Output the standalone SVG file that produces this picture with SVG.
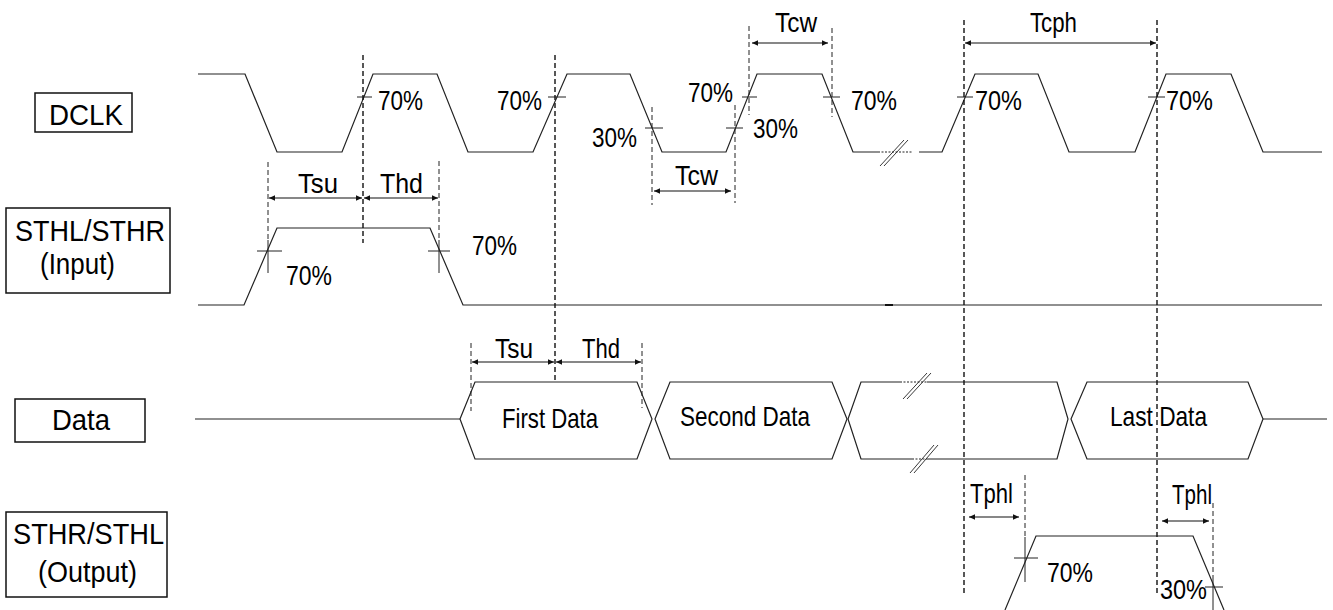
<svg xmlns="http://www.w3.org/2000/svg" width="1333" height="610" viewBox="0 0 1333 610">
<style>
.bg{fill:#fff}
.w{fill:none;stroke:#222;stroke-width:1.2}
.dot{fill:none;stroke:#222;stroke-width:1.2;stroke-dasharray:2 1.5}
.brk{fill:none;stroke:#222;stroke-width:0.9}
.tk{fill:none;stroke:#222;stroke-width:1}
.dl{fill:none;stroke:#111;stroke-width:1.4;stroke-dasharray:5 3}
.ds{fill:none;stroke:#222;stroke-width:1;stroke-dasharray:5 3}
.ar{fill:none;stroke:#111;stroke-width:1.1;marker-start:url(#ah);marker-end:url(#ah)}
.box{fill:#fff;stroke:#111;stroke-width:1.5}
text{font-family:"Liberation Sans",Arial,sans-serif;fill:#000}
.lb{font-size:30px}
.t{font-size:28px}
</style>
<defs>
<marker id="ah" markerUnits="userSpaceOnUse" markerWidth="7" markerHeight="7" refX="6" refY="3.5" orient="auto-start-reverse">
<path d="M0,0.8 L6,3.5 L0,6.2 Z" fill="#111"/>
</marker>
</defs>
<rect class="bg" x="0" y="0" width="1333" height="610"/>

<g id="label-dclk">
<rect class="box" x="35" y="93" width="97" height="39"/>
<text class="lb" x="49" y="125" textLength="74" lengthAdjust="spacingAndGlyphs">DCLK</text>
</g>
<g id="label-sthl-input">
<rect class="box" x="6" y="208" width="164" height="85"/>
<text class="lb" x="15" y="241" textLength="150" lengthAdjust="spacingAndGlyphs">STHL/STHR</text>
<text class="lb" x="40" y="274" textLength="75" lengthAdjust="spacingAndGlyphs">(Input)</text>
</g>
<g id="label-data">
<rect class="box" x="15" y="399" width="130" height="43"/>
<text class="lb" x="52" y="430" textLength="58" lengthAdjust="spacingAndGlyphs">Data</text>
</g>
<g id="label-sthr-output">
<rect class="box" x="6" y="512" width="161" height="85"/>
<text class="lb" x="13" y="544" textLength="151" lengthAdjust="spacingAndGlyphs">STHR/STHL</text>
<text class="lb" x="38" y="582" textLength="99" lengthAdjust="spacingAndGlyphs">(Output)</text>
</g>

<g id="wave-dclk">
<path class="w" d="M198,74 H245 L277,152 H342 L373,74 H437 L468,152 H533 L567,74 H630 L662,152 H726 L757,74 H822 L853,152 H878"/>
<path class="dot" d="M878,152 H913"/>
<path class="w" d="M919,152 H942 L975,74 H1038 L1069,152 H1135 L1166,74 H1231 L1263,152 H1322"/>
<path class="brk" d="M880,166 L904,140 M884,166 L908,140"/>
<path class="tk" d="M357,97 H372 M548,97 H566 M645,128 H663 M726,128 H743 M742,97 H757 M823,97 H840 M957,97 H973 M1148,97 H1165"/>
<text class="t" x="378" y="110" textLength="45" lengthAdjust="spacingAndGlyphs">70%</text>
<text class="t" x="497" y="110" textLength="45" lengthAdjust="spacingAndGlyphs">70%</text>
<text class="t" x="592" y="147" textLength="45" lengthAdjust="spacingAndGlyphs">30%</text>
<text class="t" x="688" y="102" textLength="45" lengthAdjust="spacingAndGlyphs">70%</text>
<text class="t" x="753" y="138" textLength="45" lengthAdjust="spacingAndGlyphs">30%</text>
<text class="t" x="851" y="110" textLength="46" lengthAdjust="spacingAndGlyphs">70%</text>
<text class="t" x="975" y="110" textLength="47" lengthAdjust="spacingAndGlyphs">70%</text>
<text class="t" x="1166" y="110" textLength="47" lengthAdjust="spacingAndGlyphs">70%</text>
</g>

<g id="wave-sthl-input">
<path class="w" d="M198,305 H244 L277,228 H430 L463,305 H1322"/>
<path d="M885,305 H893" stroke="#111" stroke-width="2"/>
<path class="tk" d="M257,251 H282 M268,240 V273 M428,251 H450 M439,240 V273"/>
<text class="t" x="286" y="285" textLength="46" lengthAdjust="spacingAndGlyphs">70%</text>
<text class="t" x="472" y="255" textLength="45" lengthAdjust="spacingAndGlyphs">70%</text>
</g>

<g id="wave-data">
<path class="w" d="M195,419 H460"/>
<path class="w" d="M460,419 L475,382 H637 L652,419 L637,459 H475 Z"/>
<path class="w" d="M655,419 L670,382 H832 L847,419 L832,459 H670 Z"/>
<path class="w" d="M900,382 H861 L848,419 L861,459 H912"/>
<path class="w" d="M927,382 H1057 L1068,419 L1057,459 H928"/>
<path class="dot" d="M900,382 H927 M912,459 H928"/>
<path class="brk" d="M903,399 L927,373 M907,399 L931,373 M910,473 L934,445 M914,473 L938,445"/>
<path class="w" d="M1071,419 L1087,382 H1248 L1263,419 L1248,459 H1087 Z"/>
<path class="w" d="M1263,419 H1327"/>
<text class="t" x="502" y="428" textLength="96" lengthAdjust="spacingAndGlyphs">First Data</text>
<text class="t" x="680" y="426" textLength="130" lengthAdjust="spacingAndGlyphs">Second Data</text>
<text class="t" x="1110" y="426" textLength="97" lengthAdjust="spacingAndGlyphs">Last Data</text>
</g>

<g id="wave-sthr-output">
<path class="w" d="M1005,610 L1036,536 H1193 L1224,610"/>
<path class="tk" d="M1014,558 H1038 M1025,537 V582 M1205,587 H1223 M1213,575 V610"/>
<text class="t" x="1047" y="582" textLength="46" lengthAdjust="spacingAndGlyphs">70%</text>
<text class="t" x="1160" y="599" textLength="47" lengthAdjust="spacingAndGlyphs">30%</text>
</g>

<g id="connectors">
<path class="dl" d="M363,55 V243 M555,55 V382 M964,20 V595 M1157,20 V595"/>
<path class="ds" d="M652,107 V205 M735,105 V203 M749,26 V115 M832,28 V117 M268,162 V240 M439,161 V240 M471,343 V411 M642,343 V408 M1025,475 V537 M1213,503 V575"/>
<path class="ar" d="M654,191 H731"/>
<path class="ar" d="M752,43 H828"/>
<path class="ar" d="M965,43 H1156"/>
<path class="ar" d="M269,198 H362"/>
<path class="ar" d="M364,198 H438"/>
<path class="ar" d="M472,362 H554"/>
<path class="ar" d="M556,362 H641"/>
<path class="ar" d="M969,517 H1019"/>
<path class="ar" d="M1162,521 H1209"/>
<text class="t" x="775" y="32" textLength="42" lengthAdjust="spacingAndGlyphs">Tcw</text>
<text class="t" x="675" y="185" textLength="43" lengthAdjust="spacingAndGlyphs">Tcw</text>
<text class="t" x="1030" y="32" textLength="47" lengthAdjust="spacingAndGlyphs">Tcph</text>
<text class="t" x="298" y="193" textLength="40" lengthAdjust="spacingAndGlyphs">Tsu</text>
<text class="t" x="380" y="193" textLength="43" lengthAdjust="spacingAndGlyphs">Thd</text>
<text class="t" x="495" y="358" textLength="38" lengthAdjust="spacingAndGlyphs">Tsu</text>
<text class="t" x="582" y="358" textLength="38" lengthAdjust="spacingAndGlyphs">Thd</text>
<text class="t" x="970" y="503" textLength="43" lengthAdjust="spacingAndGlyphs">Tphl</text>
<text class="t" x="1172" y="504" textLength="40" lengthAdjust="spacingAndGlyphs">Tphl</text>
</g>
</svg>
